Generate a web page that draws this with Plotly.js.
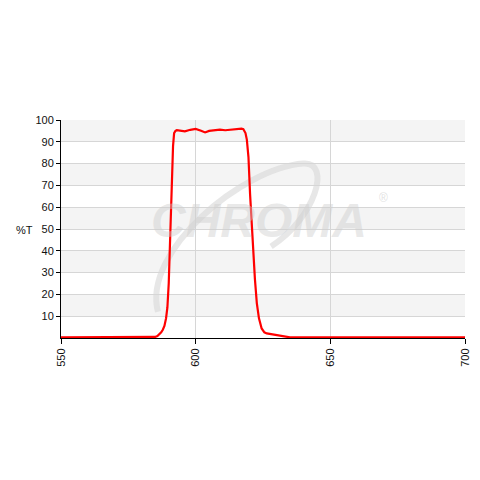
<!DOCTYPE html>
<html><head><meta charset="utf-8">
<script src="https://cdn.plot.ly/plotly-3.0.1.min.js"></script>
<style>html,body{margin:0;padding:0;background:#fff}#c{width:480px;height:480px}</style>
</head><body><div id="c"></div>
<script>
var wavelength = [550,560,570,580,584,585,585.8,586.5,587.2,587.8,588.4,589,589.5,590,590.5,591.1,591.6,592,592.5,593,594,596,598,600,602,603.5,605,607,609,611,613,615,617,617.7,618.5,619,619.6,620.2,620.8,621.4,622,622.7,623.5,624.5,625.5,626.4,628,630,632.6,635,640,660,680,700];
var transmission = [0.3,0.3,0.3,0.3,0.3,0.5,0.9,1.6,2.6,3.8,5.5,9,14,25,45,74,88,94,95,95.3,95.2,94.8,95.5,95.9,95.1,94.3,95,95.4,95.6,95.3,95.6,95.7,96,95.8,94,91,83,66,52,40,27,16,9,4.4,2.6,2.1,1.7,1.2,0.6,0.3,0.3,0.3,0.3,0.3];
var xTicks = [550,600,650,700];
var yTicks = [10,20,30,40,50,60,70,80,90,100];
var bandStarts = [10,30,50,70,90];

var shapes = bandStarts.map(function(b){
  return {type:'rect',xref:'paper',yref:'y',x0:0,x1:1,y0:b,y1:b+10,fillcolor:'#f4f4f4',line:{width:0},layer:'below'};
});
shapes.push({type:'path',xref:'paper',yref:'paper',layer:'below',
  path:'M 0.24 0.12 C 0.2 0.4, 0.45 0.78, 0.6 0.8 C 0.67 0.81, 0.63 0.55, 0.52 0.42',
  line:{color:'rgba(215,215,215,0.6)',width:6}});

var trace = {x:wavelength,y:transmission,type:'scatter',mode:'lines',
  line:{color:'#ff0000',width:2.2},hoverinfo:'skip'};

var layout = {
  width:480,height:480,
  margin:{l:61,r:15,t:120,b:142},
  paper_bgcolor:'#fff',plot_bgcolor:'#fff',
  showlegend:false,
  font:{family:'Liberation Sans, Arial, sans-serif',size:11,color:'#111'},
  xaxis:{range:[550,700],tickvals:xTicks,ticktext:xTicks.map(String),tickangle:-90,
    showgrid:true,gridcolor:'#d6d6d6',gridwidth:1,zeroline:false,
    showline:true,linecolor:'#000',linewidth:1,ticks:'outside',ticklen:5,tickcolor:'#000',
    tickfont:{size:11,color:'#111'}},
  yaxis:{range:[0,100],tickvals:yTicks,ticktext:yTicks.map(String),
    showgrid:true,gridcolor:'#d6d6d6',gridwidth:1,zeroline:false,
    showline:true,linecolor:'#000',linewidth:1,ticks:'outside',ticklen:4,tickcolor:'#000',
    tickfont:{size:11,color:'#111'}},
  shapes:shapes,
  annotations:[
    {xref:'paper',yref:'paper',x:-0.09,y:0.495,xanchor:'center',yanchor:'middle',showarrow:false,
     text:'%T',font:{size:11,color:'#111'}},
    {xref:'paper',yref:'paper',x:0.49,y:0.54,showarrow:false,
    text:'<b><i>CHROMA</i></b>',font:{family:'Liberation Sans, Arial, sans-serif',size:48,color:'rgba(205,205,205,0.45)'}},
    {xref:'paper',yref:'paper',x:0.815,y:0.64,showarrow:false,text:'®',font:{size:12,color:'rgba(205,205,205,0.6)'}}]
};
Plotly.newPlot('c',[trace],layout,{staticPlot:true,displayModeBar:false});
</script></body></html>
